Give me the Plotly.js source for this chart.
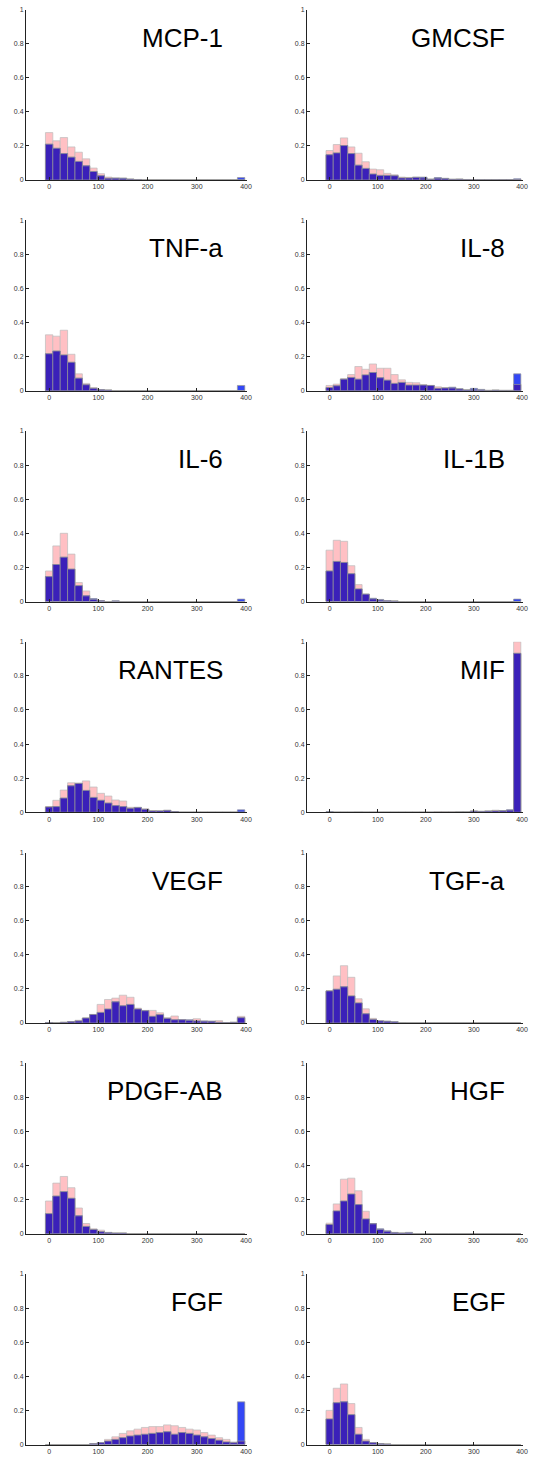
<!DOCTYPE html>
<html>
<head>
<meta charset="utf-8">
<script src="https://cdn.plot.ly/plotly-3.0.1.min.js"></script>
<style>html,body{margin:0;padding:0;background:#fff;}#chart{width:533px;height:1460px;}</style>
</head>
<body>
<div id="chart"></div>
<script>
// Bin centres of the histograms
const binCenters = [0,15,30,45,60,75,90,105,120,135,150,165,180,195,210,225,240,255,270,285,300,315,330,345,360,375,390];
const xTickVals = [0,100,200,300,400];
const yTickVals = [0,0.2,0.4,0.6,0.8,1];
const yTickText = ["0","0.2","0.4","0.6","0.8","1"];
const panelNames = ["MCP-1","GMCSF","TNF-a","IL-8","IL-6","IL-1B","RANTES","MIF","VEGF","TGF-a","PDGF-AB","HGF","FGF","EGF"];

const mcp1Pink = [0.278,0.23,0.249,0.194,0.163,0.124,0.07,0.037,0.017,0.01,0.008,0.005,0.003,0,0,0,0,0,0,0,0,0,0,0,0,0,0];
const mcp1Blue = [0.21,0.186,0.155,0.134,0.109,0.083,0.05,0.025,0.01,0.012,0.012,0.005,0.003,0,0,0,0,0,0,0,0,0,0,0,0,0,0.014];
const gmcsfPink = [0.173,0.208,0.247,0.194,0.157,0.107,0.064,0.06,0.039,0.031,0.017,0.015,0.015,0.012,0.006,0.01,0.008,0.004,0.004,0.003,0.002,0.002,0.002,0.002,0.002,0.002,0.003];
const gmcsfBlue = [0.148,0.159,0.202,0.155,0.087,0.068,0.035,0.027,0.027,0.025,0.012,0.012,0.017,0.017,0.004,0.014,0.01,0.004,0.006,0.003,0.002,0.002,0.002,0.002,0.002,0.002,0.007];
const tnfPink = [0.328,0.32,0.355,0.214,0.099,0.043,0.019,0.006,0.004,0,0,0,0,0,0,0,0,0,0,0,0,0,0,0,0,0,0];
const tnfBlue = [0.217,0.233,0.21,0.167,0.074,0.035,0.014,0.006,0.004,0,0,0,0,0,0,0,0,0,0,0,0,0,0,0,0,0,0.031];
const il8Pink = [0.031,0.039,0.07,0.095,0.142,0.126,0.157,0.132,0.132,0.095,0.064,0.049,0.047,0.035,0.031,0.023,0.019,0.016,0.01,0.005,0.006,0.004,0.002,0.003,0.002,0.002,0.037];
const il8Blue = [0.019,0.029,0.068,0.078,0.068,0.093,0.107,0.076,0.062,0.043,0.049,0.033,0.033,0.033,0.031,0.014,0.016,0.021,0.012,0.005,0.014,0.008,0.002,0.004,0.002,0.002,0.099];
const il6Pink = [0.179,0.326,0.4,0.278,0.111,0.062,0.012,0.004,0,0.002,0,0,0,0,0,0,0,0,0,0,0,0,0,0,0,0,0];
const il6Blue = [0.146,0.217,0.26,0.19,0.093,0.033,0.017,0.005,0,0.004,0,0,0,0,0,0,0,0,0,0,0,0,0,0,0,0,0.014];
const il1bPink = [0.301,0.359,0.353,0.21,0.099,0.043,0.015,0.008,0.004,0.003,0,0,0,0,0,0,0,0,0,0,0,0,0,0,0,0,0];
const il1bBlue = [0.179,0.235,0.229,0.163,0.074,0.043,0.019,0.012,0.004,0.003,0,0,0,0,0,0,0,0,0,0,0,0,0,0,0,0,0.014];
const rantesPink = [0.033,0.07,0.13,0.173,0.171,0.184,0.148,0.111,0.095,0.072,0.066,0.029,0.027,0.02,0.009,0.008,0.01,0.004,0,0,0,0,0,0,0,0,0];
const rantesBlue = [0.031,0.033,0.083,0.155,0.169,0.128,0.087,0.07,0.054,0.039,0.033,0.023,0.029,0.017,0.008,0.008,0.012,0.004,0,0,0,0,0,0,0,0,0.014];
const mifPink = [0,0,0,0,0.002,0,0,0,0,0,0,0,0,0,0,0.003,0.003,0.003,0.002,0.002,0.006,0.004,0.006,0.012,0.008,0.012,1.0];
const mifBlue = [0.004,0,0,0,0,0,0,0,0,0,0,0,0,0,0,0,0,0,0.002,0.002,0.008,0.006,0.008,0.008,0.01,0.014,0.932];
const vegfPink = [0.003,0,0.004,0.008,0.016,0.029,0.05,0.109,0.138,0.146,0.163,0.151,0.087,0.074,0.074,0.06,0.031,0.041,0.019,0.015,0.025,0.01,0.01,0.014,0.002,0.004,0.039];
const vegfBlue = [0.003,0,0.004,0.008,0.012,0.029,0.05,0.062,0.082,0.124,0.101,0.109,0.082,0.072,0.039,0.049,0.027,0.019,0.019,0.019,0.012,0.012,0.01,0.004,0.002,0.004,0.031];
const tgfPink = [0.19,0.276,0.336,0.268,0.142,0.083,0.027,0.014,0.01,0.006,0.003,0,0,0,0,0,0,0,0,0,0,0,0,0,0,0,0];
const tgfBlue = [0.188,0.198,0.212,0.159,0.118,0.054,0.021,0.012,0.01,0.008,0,0,0,0,0,0,0,0,0,0,0,0,0,0,0,0,0];
const pdgfPink = [0.192,0.297,0.336,0.27,0.151,0.06,0.029,0.021,0.006,0.004,0.004,0,0,0,0,0,0,0,0,0,0,0,0,0,0,0,0];
const pdgfBlue = [0.118,0.221,0.247,0.208,0.105,0.043,0.025,0.012,0.008,0.004,0.004,0,0,0,0,0,0,0,0,0,0,0,0,0,0,0,0];
const hgfPink = [0.062,0.175,0.32,0.326,0.252,0.132,0.058,0.025,0.014,0.006,0.004,0.004,0,0,0,0,0,0,0,0,0,0,0,0,0,0,0];
const hgfBlue = [0.054,0.134,0.192,0.233,0.171,0.087,0.06,0.029,0.017,0.008,0.004,0.008,0,0,0,0,0,0,0,0,0,0,0,0,0,0,0];
const fgfPink = [0,0,0,0,0,0,0.005,0.01,0.03,0.045,0.065,0.08,0.09,0.1,0.105,0.105,0.115,0.11,0.1,0.09,0.085,0.07,0.055,0.04,0.03,0.015,0.02];
const fgfBlue = [0,0,0,0,0,0,0.005,0.01,0.02,0.03,0.04,0.05,0.055,0.06,0.065,0.07,0.075,0.06,0.07,0.065,0.055,0.045,0.035,0.025,0.015,0.01,0.25];
const egfPink = [0.2,0.33,0.355,0.24,0.1,0.03,0.01,0.005,0.003,0,0,0,0,0,0,0,0,0,0,0,0,0,0,0,0,0,0];
const egfBlue = [0.15,0.245,0.25,0.175,0.06,0.02,0.01,0.005,0.003,0,0,0,0,0,0,0,0,0,0,0,0,0,0,0,0,0,0];

const pinkSeries = [mcp1Pink,gmcsfPink,tnfPink,il8Pink,il6Pink,il1bPink,rantesPink,mifPink,vegfPink,tgfPink,pdgfPink,hgfPink,fgfPink,egfPink];
const blueSeries = [mcp1Blue,gmcsfBlue,tnfBlue,il8Blue,il6Blue,il1bBlue,rantesBlue,mifBlue,vegfBlue,tgfBlue,pdgfBlue,hgfBlue,fgfBlue,egfBlue];

const W = 533, H = 1460;
const colX = [[26, 247], [307, 523]];
const titleRight = [225, 507];
const rowTop0 = 9.5, rowStep = 210.75, plotH = 170.5;

const PINK = '#ffc0c4';
const BLUE = '#3347f5';
const DARK = '#3a20b9';
const EDGE = 'rgba(150,150,150,0.9)';
const tickFont = {family: 'Liberation Sans, Arial, sans-serif', size: 7, color: '#333'};

const traces = [];
const layout = {
  width: W, height: H,
  margin: {l: 0, r: 0, t: 0, b: 0},
  paper_bgcolor: '#fff', plot_bgcolor: '#fff',
  showlegend: false, barmode: 'overlay', bargap: 0,
  annotations: []
};

panelNames.forEach((name, i) => {
  const n = i + 1;
  const col = i % 2, row = Math.floor(i / 2);
  const top = rowTop0 + row * rowStep, bot = top + plotH;
  const xa = n === 1 ? 'x' : 'x' + n;
  const ya = n === 1 ? 'y' : 'y' + n;
  const pink = pinkSeries[i], blue = blueSeries[i];
  const overlap = pink.map((p, k) => Math.min(p, blue[k]));
  const common = {type: 'bar', x: binCenters, width: 15, xaxis: xa, yaxis: ya, hoverinfo: 'skip'};
  traces.push(Object.assign({}, common, {y: pink, marker: {color: PINK, line: {color: 'rgba(190,190,190,0.9)', width: 0.8}}}));
  traces.push(Object.assign({}, common, {y: blue, marker: {color: BLUE, line: {color: EDGE, width: 0.8}}}));
  traces.push(Object.assign({}, common, {y: overlap, marker: {color: DARK, line: {color: EDGE, width: 0.8}}}));

  const axCommon = {showgrid: false, zeroline: false, showline: true, linecolor: '#222', linewidth: 1,
    ticks: 'inside', ticklen: 3, tickwidth: 1, tickcolor: '#222', tickfont: tickFont, fixedrange: true};
  layout[n === 1 ? 'xaxis' : 'xaxis' + n] = Object.assign({}, axCommon, {
    domain: [colX[col][0] / W, colX[col][1] / W], range: [-47, 402], anchor: ya,
    tickmode: 'array', tickvals: xTickVals, ticktext: xTickVals.map(String)
  });
  layout[n === 1 ? 'yaxis' : 'yaxis' + n] = Object.assign({}, axCommon, {
    domain: [1 - bot / H, 1 - top / H], range: [0, 1], anchor: xa,
    tickmode: 'array', tickvals: yTickVals, ticktext: yTickText
  });
  layout.annotations.push({
    text: name, xref: 'paper', yref: 'paper', x: titleRight[col] / W, y: 1 - (top + 28) / H,
    xanchor: 'right', yanchor: 'middle', showarrow: false,
    font: {family: 'Liberation Sans, Arial, sans-serif', size: 26, color: '#000'}
  });
});

Plotly.newPlot('chart', traces, layout, {staticPlot: true, displayModeBar: false});
</script>
</body>
</html>
